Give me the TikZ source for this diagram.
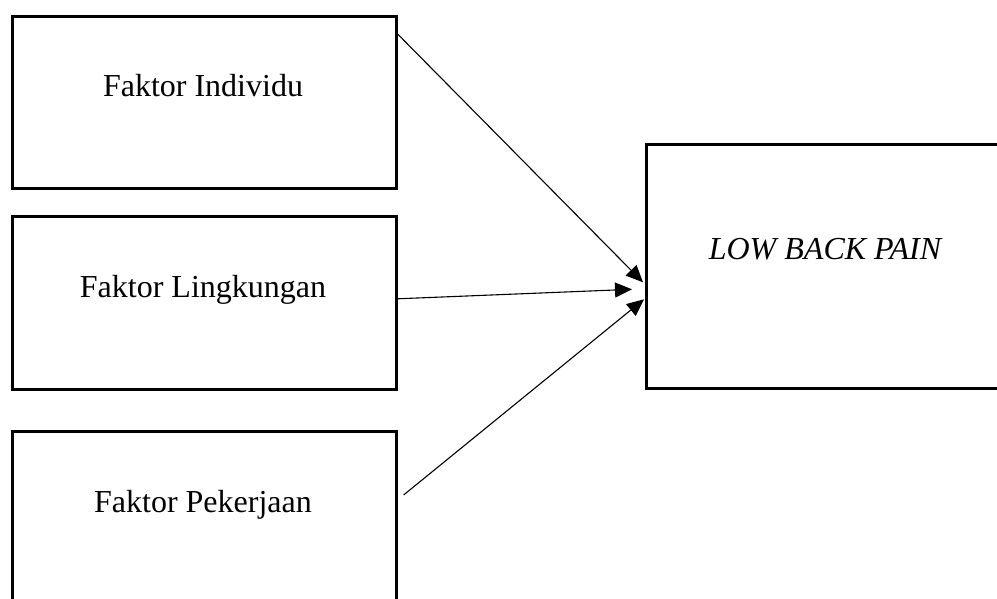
\documentclass[tikz,border=0pt]{standalone}
\usepackage{fontspec}
\setmainfont{Liberation Serif}
\usetikzlibrary{arrows.meta,calc}
\begin{document}
\begin{tikzpicture}[x=1pt,y=-1pt,
  box/.style={draw=black,line width=2.6pt,rectangle,inner sep=0pt,anchor=north west},
  lbl/.style={anchor=base,inner sep=0pt,font=\fontsize{32}{36}\selectfont},
  conn/.style={line width=1.1pt,-{Triangle[length=17pt,width=15pt]}}]
\useasboundingbox (0,0) rectangle (997,599);
\begin{scope}
\clip (0,0) rectangle (997,599);
\node[box,minimum width=384pt,minimum height=172pt] (b1) at (11,15) {};
\node[box,minimum width=384pt,minimum height=173pt] (b2) at (11,215) {};
\node[box,minimum width=384pt,minimum height=190pt] (b3) at (11,430) {};
\node[box,minimum width=360pt,minimum height=244pt] (lbp) at (645,143) {};
\end{scope}
\node[lbl] (t1) at (203,97) {Faktor Individu};
\node[lbl] (t2) at (203,298) {Faktor Lingkungan};
\node[lbl] (t3) at (203,512) {Faktor Pekerjaan};
\node[lbl] (t4) at (825,259) {\itshape LOW BACK PAIN};
\coordinate (s1) at ($(b1.north east)+(-1,18)$);
\coordinate (s2) at ($(b2.east)+(0,-4)$);
\coordinate (s3) at ($(b3.north east)+(6,65)$);
\coordinate (e1) at ($(lbp.west)+(-2,16)$);
\coordinate (e2) at ($(lbp.west)+(-13,23)$);
\coordinate (e3) at ($(lbp.west)+(-1,33)$);
\draw[conn] (s1) -- (e1);
\draw[conn] (s2) -- (e2);
\draw[conn] (s3) -- (e3);
\end{tikzpicture}
\end{document}
